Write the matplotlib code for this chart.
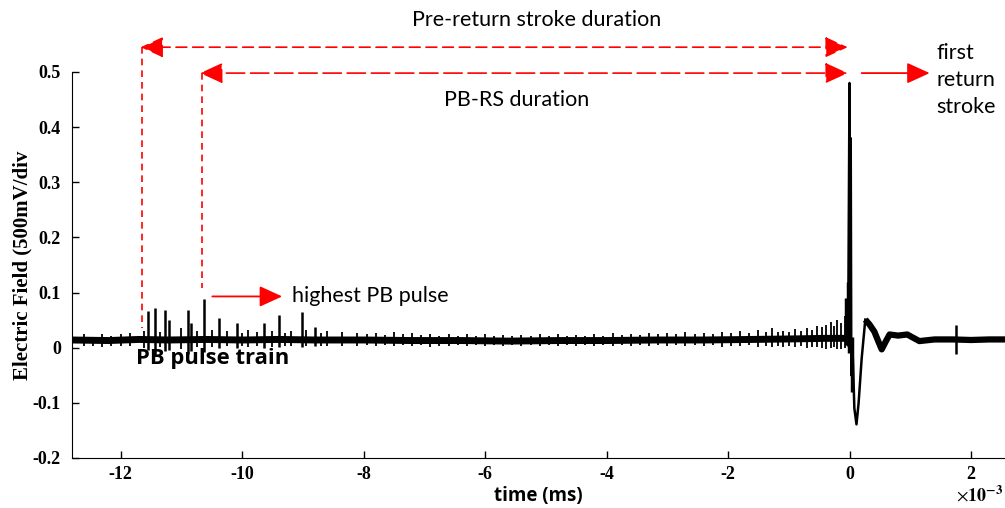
import matplotlib
matplotlib.use("Agg")
import matplotlib.pyplot as plt
import numpy as np

# ---- data (time in ms, field in V) ----
# slowly wandering baseline before the return stroke
base_t = [-12.8, -12.2, -11.7, -11.2, -10.6, -10.0, -9.4, -8.8, -8.0, -7.2, -6.4,
          -5.6, -4.8, -4.0, -3.2, -2.4, -1.6, -0.9, -0.4, -0.04]
base_v = [0.014, 0.013, 0.015, 0.014, 0.015, 0.014, 0.015, 0.014, 0.014, 0.013, 0.013,
          0.012, 0.013, 0.013, 0.014, 0.014, 0.015, 0.016, 0.017, 0.017]

# preliminary breakdown (PB) pulses: time, top, bottom
pb_t = [-11.55, -11.43, -11.27, -11.20, -10.89, -10.84, -10.63, -10.38, -10.08, -9.64, -9.39, -9.01, -8.80]
pb_top = [0.066, 0.072, 0.068, 0.050, 0.068, 0.045, 0.088, 0.054, 0.044, 0.044, 0.059, 0.064, 0.038]
pb_bot = [-0.004, -0.014, -0.006, -0.004, -0.012, -0.006, -0.008, 0.000, 0.000, 0.000, 0.002, 0.002, 0.003]

# small spikes riding on the noise band
spk_t = [-12.6, -12.45, -12.3, -12.15, -12.0, -11.85, -11.62, -11.35, -11.0, -10.75, -10.5, -10.25,
         -10.0, -9.9, -9.75, -9.5, -9.3, -9.2, -8.95, -8.7, -8.6, -8.35, -8.1, -7.95, -7.8, -7.65,
         -7.5, -7.35, -7.2, -7.05, -6.9, -6.75, -6.6, -6.45, -6.3, -6.15, -6.0, -5.85, -5.7, -5.55,
         -5.4, -5.25, -5.1, -4.95, -4.8, -4.65, -4.5, -4.35, -4.2, -4.05, -3.9, -3.75, -3.6, -3.45,
         -3.3, -3.15, -3.0, -2.85, -2.7, -2.55, -2.4, -2.25, -2.1, -1.95, -1.8, -1.65, -1.5, -1.38,
         -1.28, -1.18, -1.1, -1.0, -0.9, -0.8, -0.7, -0.62, -0.54, -0.46, -0.38, -0.30, -0.25,
         -0.21, -0.14, -0.08]
spk_top = [0.024, 0.020, 0.025, 0.021, 0.024, 0.026, 0.030, 0.028, 0.036, 0.030, 0.032, 0.030,
           0.027, 0.033, 0.028, 0.030, 0.026, 0.030, 0.033, 0.027, 0.030, 0.028, 0.027, 0.024, 0.026, 0.023,
           0.028, 0.024, 0.026, 0.023, 0.025, 0.022, 0.024, 0.022, 0.025, 0.021, 0.024, 0.022, 0.023, 0.021,
           0.023, 0.021, 0.024, 0.022, 0.025, 0.022, 0.023, 0.021, 0.024, 0.022, 0.026, 0.023, 0.025, 0.023,
           0.027, 0.024, 0.026, 0.024, 0.028, 0.025, 0.027, 0.025, 0.029, 0.026, 0.030, 0.027, 0.032, 0.028,
           0.035, 0.029, 0.031, 0.028, 0.034, 0.030, 0.036, 0.033, 0.040, 0.038, 0.042, 0.046, 0.040,
           0.050, 0.044, 0.057]
spk_bot = [0.004, 0.003, 0.002, 0.004, 0.004, 0.003, 0.000, 0.002, -0.003, 0.002, 0.001, 0.003,
           0.004, 0.002, 0.004, 0.002, 0.004, 0.003, 0.004, 0.003, 0.003, 0.004, 0.003, 0.005, 0.004, 0.005,
           0.003, 0.005, 0.004, 0.005, 0.002, 0.004, 0.004, 0.005, 0.003, 0.005, 0.004, 0.005, 0.004, 0.005,
           0.003, 0.005, 0.004, 0.005, 0.003, 0.005, 0.004, 0.005, 0.003, 0.005, 0.004, 0.005, 0.004, 0.005,
           0.003, 0.005, 0.004, 0.005, 0.003, 0.005, 0.004, 0.005, 0.002, 0.004, 0.003, 0.005, 0.002, 0.004,
           0.001, 0.003, 0.002, 0.004, 0.001, 0.003, 0.000, 0.002, 0.002, 0.000, -0.002, 0.000, 0.001,
           -0.003, -0.002, 0.000]

# first return stroke and its tail
rs_t = [-0.04, -0.02, 0.0, 0.01, 0.02, 0.03, 0.05, 0.08, 0.115, 0.15, 0.2, 0.26]
rs_v = [0.017, 0.06, 0.48, 0.10, 0.38, -0.05, 0.0, -0.11, -0.139, -0.10, -0.02, 0.051]
tail_t = [0.26, 0.33, 0.41, 0.48, 0.53, 0.6, 0.66, 0.8, 0.95, 1.15, 1.4, 1.7, 2.0, 2.3, 2.56]
tail_v = [0.051, 0.042, 0.029, 0.010, -0.003, 0.012, 0.024, 0.022, 0.024, 0.012, 0.015, 0.015, 0.014, 0.015, 0.015]

# block of dense pulses right at the stroke onset, and a late pulse
onset_t = [-0.05, -0.03, -0.01, 0.04]
onset_top = [0.09, 0.12, 0.11, 0.02]
onset_bot = [0.005, 0.004, -0.01, -0.08]
late_t = [1.76]
late_top = [0.042]
late_bot = [-0.011]

yticks = [-0.2, -0.1, 0, 0.1, 0.2, 0.3, 0.4, 0.5]
ytick_labels = ['-0.2', '-0.1', '0', '0.1', '0.2', '0.3', '0.4', '0.5']
xticks = [-12, -10, -8, -6, -4, -2, 0, 2]
xtick_labels = ['-12', '-10', '-8', '-6', '-4', '-2', '0', '2']

plt.rcParams['mathtext.fontset'] = 'stix'
sans = 'Lato'

fig = plt.figure(figsize=(10.05, 5.08), dpi=100)
ax = fig.add_axes([72 / 1005, 1 - 458 / 508, 1 - 72 / 1005, (458 - 72) / 508])

ax.plot(base_t, base_v, color='black', lw=5, solid_capstyle='butt')
ax.vlines(spk_t, spk_bot, spk_top, color='black', lw=1.3)
ax.vlines(pb_t, pb_bot, pb_top, color='black', lw=1.8)
ax.vlines(onset_t, onset_bot, onset_top, color='black', lw=2.5)
ax.plot(rs_t, rs_v, color='black', lw=1.8)
ax.plot(tail_t, tail_v, color='black', lw=4.5, solid_capstyle='butt')
ax.vlines(late_t, late_bot, late_top, color='black', lw=1.8)

ax.set_xlim(-12.8, 2.56)
ax.set_ylim(-0.2, 0.5)
ax.spines['top'].set_visible(False)
ax.spines['right'].set_visible(False)
ax.set_xticks(xticks)
ax.set_xticklabels(xtick_labels)
ax.set_yticks(yticks)
ax.set_yticklabels(ytick_labels)
ax.tick_params(direction='in', length=5, width=1)
for lab in ax.get_xticklabels() + ax.get_yticklabels():
    lab.set_fontfamily('Liberation Serif')
    lab.set_fontweight('bold')
    lab.set_fontsize(13)
ax.tick_params(axis='x', pad=6)
ax.tick_params(axis='y', pad=8)

ax.set_ylabel('Electric Field (500mV/div', fontfamily='Liberation Serif',
              fontweight='bold', fontsize=15, labelpad=0)
ax.set_xlabel('time (ms)', fontfamily='Open Sans', fontweight='bold', fontsize=13.5, labelpad=2)
fig.text(0.998, 0.005, r'$\times\mathbf{10^{-3}}$', ha='right', va='bottom', fontsize=13)

# ---- annotations ----
head = '-|>,head_length=0.7,head_width=0.32'
dhead = '<|-|>,head_length=0.7,head_width=0.32'
ax.annotate('', xy=(-0.03, 0.545), xytext=(-11.67, 0.545), annotation_clip=False,
            arrowprops=dict(arrowstyle=dhead, color='red', lw=1.2, ls=(0, (6.5, 3.5)),
                            shrinkA=0, shrinkB=0, mutation_scale=20))
ax.annotate('', xy=(-0.03, 0.498), xytext=(-10.69, 0.498), annotation_clip=False,
            arrowprops=dict(arrowstyle=dhead, color='red', lw=1.2, ls=(0, (11, 3.5)),
                            shrinkA=0, shrinkB=0, mutation_scale=20))
ax.plot([-11.64, -11.64], [0.545, 0.035], color='red', lw=1.2, ls=(0, (4, 3)), clip_on=False)
ax.plot([-10.66, -10.66], [0.498, 0.108], color='red', lw=1.2, ls=(0, (4, 3)), clip_on=False)

ax.annotate('', xy=(1.32, 0.498), xytext=(0.2, 0.498), annotation_clip=False,
            arrowprops=dict(arrowstyle=head, color='red', lw=1.3,
                            shrinkA=0, shrinkB=0, mutation_scale=20))
ax.annotate('', xy=(-9.34, 0.093), xytext=(-10.49, 0.093), annotation_clip=False,
            arrowprops=dict(arrowstyle=head, color='red', lw=1.3,
                            shrinkA=0, shrinkB=0, mutation_scale=20))

ax.text(-5.15, 0.594, 'Pre-return stroke duration', ha='center', va='center',
        fontfamily=sans, fontsize=15.5, clip_on=False)
ax.text(-5.48, 0.45, 'PB-RS duration', ha='center', va='center',
        fontfamily=sans, fontsize=15.5, clip_on=False)
ax.text(1.43, 0.553, 'first\nreturn\nstroke', ha='left', va='top', linespacing=1.45,
        fontfamily=sans, fontsize=15.5, clip_on=False)
ax.text(-9.18, 0.093, 'highest PB pulse', ha='left', va='center',
        fontfamily=sans, fontsize=15.5, clip_on=False)
ax.text(-11.74, -0.02, 'PB pulse train', ha='left', va='center',
        fontfamily='Open Sans', fontweight='bold', fontsize=15.8, clip_on=False)

fig.savefig('out.png', dpi=100)
